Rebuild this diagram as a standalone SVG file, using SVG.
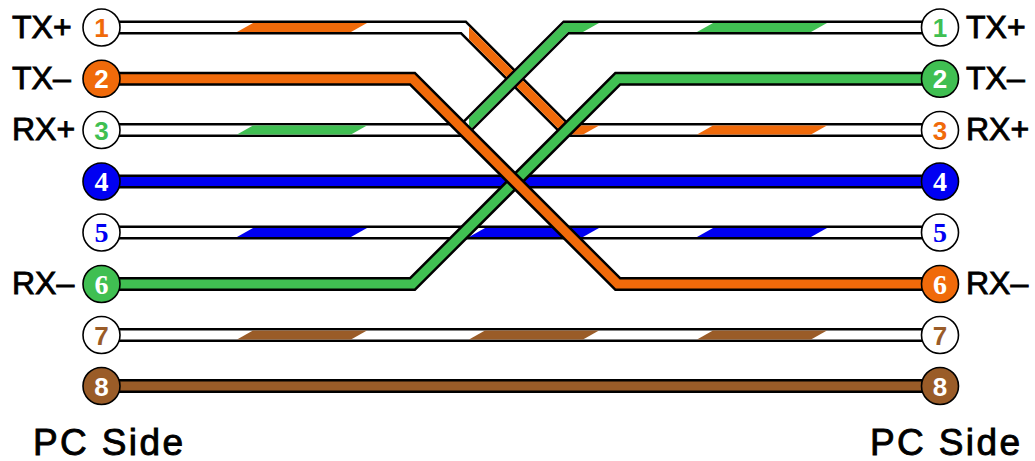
<svg xmlns="http://www.w3.org/2000/svg" width="1035" height="461" viewBox="0 0 1035 461">
<style>
.out{fill:none;stroke:#000;stroke-width:14;stroke-linejoin:miter}
.in{fill:none;stroke-width:9;stroke-linejoin:miter}
.w{stroke:#fff}
.o{stroke:#F06A0A}.og{fill:#F06A0A}
.g{stroke:#40BF52}.gg{fill:#40BF52}
.b{stroke:#0000F2}.bg{fill:#0000F2}
.n{stroke:#9A5C28}.ng{fill:#9A5C28}
.pin{stroke:#000;stroke-width:1.6}
.pw{fill:#fff}
.d{font-family:"Liberation Sans",Arial,sans-serif;font-weight:bold;font-size:26px;text-anchor:middle}
.ds{font-family:"Liberation Serif","Times New Roman",serif;font-weight:bold;font-size:28px;text-anchor:middle}
.lbl{font-family:"Liberation Sans",Arial,sans-serif;font-size:32px;fill:#000;stroke:#000;stroke-width:0.9}
.pc{font-family:"Liberation Sans",Arial,sans-serif;font-size:37px;fill:#000;stroke:#000;stroke-width:0.9}
</style>
<defs>
<clipPath id="cA"><polygon points="469,-10 660,-10 660,91.2 560,147.4 469,147.4"/></clipPath>
<clipPath id="cB"><polygon points="469,-10 657.7,-10 575,36.5 575,200 469,200"/></clipPath>
</defs>
<rect width="1035" height="461" fill="#fff"/>
<g id="connectors">
  <g id="wire4">
    <path class="out" d="M101,181.5H940"/>
    <path class="in b" d="M101,181.5H940"/>
  </g>
  <g id="wire5">
    <path class="out" d="M101,232.5H940"/>
    <path class="in w" d="M101,232.5H940"/>
    <polygon class="bg" points="237,237 253,228 367,228 351,237"/>
    <polygon class="bg" points="469,237 485,228 599,228 583,237"/>
    <polygon class="bg" points="697,237 713,228 827,228 811,237"/>
  </g>
  <g id="wire7">
    <path class="out" d="M101,335H940"/>
    <path class="in w" d="M101,335H940"/>
    <polygon class="ng" points="237,339.5 253,330.5 367,330.5 351,339.5"/>
    <polygon class="ng" points="469,339.5 485,330.5 599,330.5 583,339.5"/>
    <polygon class="ng" points="697,339.5 713,330.5 827,330.5 811,339.5"/>
  </g>
  <g id="wire8">
    <path class="out" d="M101,386H940"/>
    <path class="in n" d="M101,386H940"/>
  </g>
  <g id="wire1to3">
    <path class="out" d="M101,27.5H463.5L566,130H940"/>
    <path class="in w" d="M101,27.5H463.5L566,130H940"/>
    <polygon class="og" points="237,32 253,23 367,23 351,32"/>
    <path class="in o" clip-path="url(#cA)" d="M101,27.5H463.5L566,130H940"/>
    <polygon class="og" points="697,134.5 713,125.5 827,125.5 811,134.5"/>
  </g>
  <g id="wire3to1">
    <path class="out" d="M101,130H463.5L566,27.5H940"/>
    <path class="in w" d="M101,130H463.5L566,27.5H940"/>
    <polygon class="gg" points="237,134.5 253,125.5 367,125.5 351,134.5"/>
    <path class="in g" clip-path="url(#cB)" d="M101,130H463.5L566,27.5H940"/>
    <polygon class="gg" points="697,32 713,23 827,23 811,32"/>
  </g>
  <g id="wire6to2">
    <path class="out" d="M101,284H412.5L617.75,78.75H940"/>
    <path class="in g" d="M101,284H412.5L617.75,78.75H940"/>
  </g>
  <g id="wire2to6">
    <path class="out" d="M101,78.75H412.5L617.75,284H940"/>
    <path class="in o" d="M101,78.75H412.5L617.75,284H940"/>
  </g>
</g>
<g id="left-pins">
  <g id="L1"><circle class="pin pw" cx="101.5" cy="27.5" r="18.5"/><text class="d" x="101.5" y="37" fill="#F06A0A">1</text></g>
  <g id="L2"><circle class="pin og" cx="101.5" cy="78.75" r="18.5"/><text class="d" x="101.5" y="88.2" fill="#fff">2</text></g>
  <g id="L3"><circle class="pin pw" cx="101.5" cy="130" r="18.5"/><text class="d" x="101.5" y="139.5" fill="#40BF52">3</text></g>
  <g id="L4"><circle class="pin bg" cx="101.5" cy="181.5" r="18.5"/><text class="ds" x="101.5" y="191" fill="#fff">4</text></g>
  <g id="L5"><circle class="pin pw" cx="101.5" cy="232.5" r="18.5"/><text class="ds" x="101.5" y="242" fill="#0000F2">5</text></g>
  <g id="L6"><circle class="pin gg" cx="101.5" cy="284" r="18.5"/><text class="ds" x="101.5" y="293.5" fill="#fff">6</text></g>
  <g id="L7"><circle class="pin pw" cx="101.5" cy="335" r="18.5"/><text class="d" x="101.5" y="344.5" fill="#9A5C28">7</text></g>
  <g id="L8"><circle class="pin ng" cx="101.5" cy="386" r="18.5"/><text class="d" x="101.5" y="395.5" fill="#fff">8</text></g>
</g>
<g id="right-pins">
  <g id="R1"><circle class="pin pw" cx="940" cy="27.5" r="18.5"/><text class="d" x="940" y="37" fill="#40BF52">1</text></g>
  <g id="R2"><circle class="pin gg" cx="940" cy="78.75" r="18.5"/><text class="d" x="940" y="88.2" fill="#fff">2</text></g>
  <g id="R3"><circle class="pin pw" cx="940" cy="130" r="18.5"/><text class="d" x="940" y="139.5" fill="#F06A0A">3</text></g>
  <g id="R4"><circle class="pin bg" cx="940" cy="181.5" r="18.5"/><text class="ds" x="940" y="191" fill="#fff">4</text></g>
  <g id="R5"><circle class="pin pw" cx="940" cy="232.5" r="18.5"/><text class="ds" x="940" y="242" fill="#0000F2">5</text></g>
  <g id="R6"><circle class="pin og" cx="940" cy="284" r="18.5"/><text class="ds" x="940" y="293.5" fill="#fff">6</text></g>
  <g id="R7"><circle class="pin pw" cx="940" cy="335" r="18.5"/><text class="d" x="940" y="344.5" fill="#9A5C28">7</text></g>
  <g id="R8"><circle class="pin ng" cx="940" cy="386" r="18.5"/><text class="d" x="940" y="395.5" fill="#fff">8</text></g>
</g>
<g id="labels">
  <text class="lbl" x="12" y="38">TX+</text>
  <text class="lbl" x="12" y="89">TX–</text>
  <text class="lbl" x="12" y="140">RX+</text>
  <text class="lbl" x="12" y="294">RX–</text>
  <text class="lbl" x="966" y="38">TX+</text>
  <text class="lbl" x="966" y="89">TX–</text>
  <text class="lbl" x="966" y="140">RX+</text>
  <text class="lbl" x="966" y="294">RX–</text>
  <text class="pc" x="33" y="455" textLength="150" lengthAdjust="spacing">PC Side</text>
  <text class="pc" x="870" y="455" textLength="150" lengthAdjust="spacing">PC Side</text>
</g>
</svg>
